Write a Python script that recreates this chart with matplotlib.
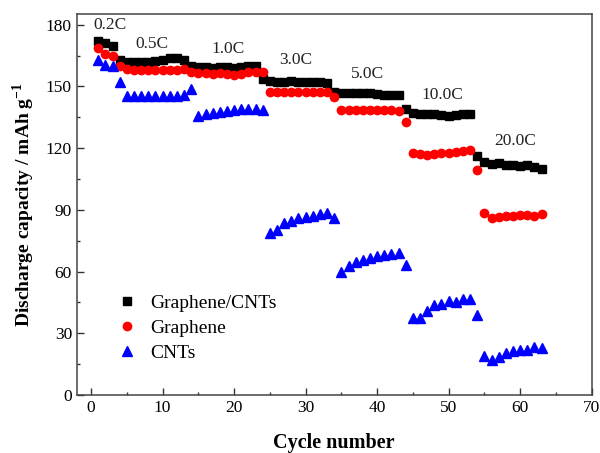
import numpy as np
import matplotlib
matplotlib.use("Agg")
import matplotlib.pyplot as plt
from matplotlib.ticker import MultipleLocator

plt.rcParams['font.family'] = ['Liberation Serif', 'DejaVu Serif']
plt.rcParams['mathtext.fontset'] = 'custom'
plt.rcParams['mathtext.rm'] = 'Liberation Serif'
plt.rcParams['mathtext.bf'] = 'Liberation Serif:bold'

cycles = np.arange(1, 64)

graphene_cnts = [172, 171, 169.5,
                 163, 162, 162, 162, 162, 162.5, 163, 164, 164, 163,
                 160, 159.5, 159.5, 159, 159.5, 159.5, 159, 159.5, 160, 160,
                 153.5, 152.5, 152, 152, 152.5, 152, 152, 152, 152, 151.5,
                 147.5, 147, 147, 147, 147, 147, 146.5, 146, 146, 146,
                 139, 137, 136.5, 136.5, 136.5, 136, 135.5, 136, 136.5, 136.5,
                 116, 113.5, 112.5, 113, 112, 112, 111.5, 112, 111, 110]

graphene = [168.5, 166, 165,
            160, 158.5, 158, 158, 158, 158, 158, 158, 158, 158.5,
            157, 156.5, 156.5, 156, 156.5, 156, 155.5, 156, 157, 157,
            157, 147.5, 147.5, 147.5, 147.5, 147.5, 147.5, 147.5, 147.5, 147.5,
            145, 138.5, 138.5, 138.5, 138.5, 138.5, 138.5, 138.5, 138.5, 138,
            132.5, 117.5, 117, 116.5, 117, 117.5, 117.5, 118, 118.5, 119,
            109.5, 88.5, 86, 86.5, 87, 87, 87.5, 87.5, 87, 88]

cnts = [163, 160.5, 160,
        152, 145.5, 145.5, 145.5, 145.5, 145.5, 145.5, 145.5, 145.5, 146,
        149, 135.5, 136.5, 137, 137.5, 138, 138.5, 139, 139, 139.2,
        138.5, 78.6, 80, 83.8, 84.7, 86.3, 86.6, 87, 87.9, 88.6,
        86, 60, 62.7, 64.8, 65.6, 66.4, 67.6, 68.1, 68.6, 69,
        63.2, 37.3, 37.3, 41, 43.8, 44.3, 45.9, 45.3, 46.5, 46.5,
        38.9, 19, 17, 18.6, 20.6, 21.4, 21.8, 22, 23.2, 23]

rate_labels = ['0.2C', '0.5C', '1.0C', '3.0C', '5.0C', '10.0C', '20.0C']
label_x = [2.6, 8.5, 19.2, 28.6, 38.7, 49.1, 59.3]
label_y = [180, 170.7, 168.3, 163, 156, 146, 123.3]

fig = plt.figure(figsize=(6, 4.53), dpi=100)
ax = fig.add_axes([0.128, 0.128, 0.858, 0.84])

ax.plot(cycles, graphene_cnts, 's', color='black', ms=5.5, label='Graphene/CNTs')
ax.plot(cycles, graphene, 'o', color='red', ms=6, label='Graphene')
ax.plot(cycles, cnts, '^', color='blue', ms=6.5, label='CNTs')

for t, x, y in zip(rate_labels, label_x, label_y):
    ax.text(x, y, t, fontsize=12.5, ha='center', va='center', color='#222222')

ax.set_xlim(-2, 70)
ax.set_ylim(0, 185)
ax.xaxis.set_major_locator(MultipleLocator(10))
ax.xaxis.set_minor_locator(MultipleLocator(5))
ax.set_yticks(np.arange(0, 181, 30))
ax.yaxis.set_minor_locator(MultipleLocator(15))
ax.tick_params(which='both', direction='in', top=False, right=False,
               labelsize=12.5, color='#333333')
ax.tick_params(which='major', length=5, width=1)
ax.tick_params(which='minor', length=2.5, width=1)
for s in ax.spines.values():
    s.set_color('#444444')
    s.set_linewidth(1.1)

ax.set_xlabel('Cycle number', fontsize=14.5, fontweight='bold', labelpad=12)
ax.set_ylabel(r'Discharge capacity / mAh g$^{\mathbf{-1}}$', fontsize=14,
              fontweight='bold', labelpad=6)

ax.legend(loc='lower left', bbox_to_anchor=(0.04, 0.04), frameon=False,
          fontsize=14, handletextpad=0.6, labelspacing=0.4, handlelength=1.2)

fig.savefig('out.png', dpi=100)
